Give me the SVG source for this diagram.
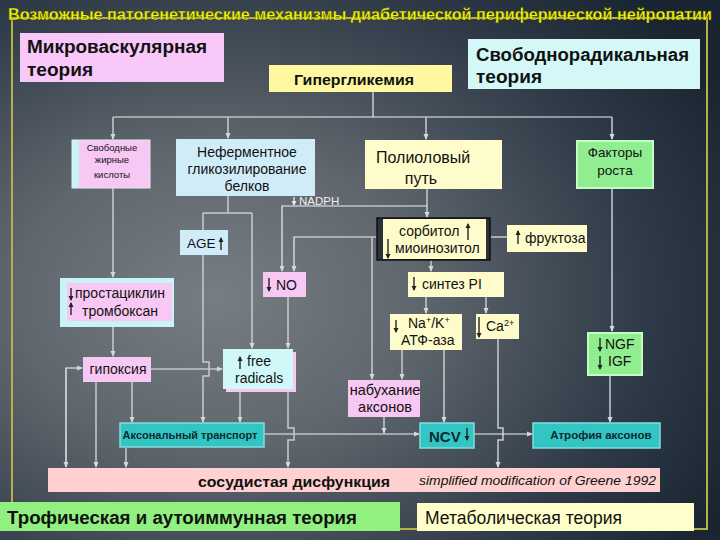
<svg xmlns="http://www.w3.org/2000/svg" width="720" height="540" viewBox="0 0 720 540">
<defs>
<radialGradient id="bg" cx="0.3" cy="0.55" r="0.8">
<stop offset="0" stop-color="#767d83"/>
<stop offset="0.35" stop-color="#5f666d"/>
<stop offset="0.75" stop-color="#2e3a47"/>
<stop offset="1" stop-color="#1a2532"/>
</radialGradient>
<marker id="a" markerWidth="6" markerHeight="6" refX="5" refY="3" orient="auto" markerUnits="userSpaceOnUse"><path d="M0,0.5 L6,3 L0,5.5 z" fill="#d4d8dc"/></marker>
<marker id="s" markerWidth="5" markerHeight="6" refX="4" refY="3" orient="auto" markerUnits="userSpaceOnUse"><path d="M0,0.5 L5,3 L0,5.5 z" fill="#222"/></marker>
<marker id="w" markerWidth="5" markerHeight="6" refX="4" refY="3" orient="auto" markerUnits="userSpaceOnUse"><path d="M0,0.5 L5,3 L0,5.5 z" fill="#e8e8e8"/></marker>
<style>
text{font-family:"Liberation Sans",Arial,sans-serif;fill:#111}
.b{font-weight:bold}
.c{stroke:#c8ccd0;stroke-width:1.5;fill:none}
.h{stroke:#f0f0f0;stroke-width:1.2;fill:none}
.ar{marker-end:url(#a)}
.sa{stroke:#222;stroke-width:1.4;fill:none;marker-end:url(#s)}
.pink{fill:#f8c8f4}
.yel{fill:#fffccc}
.teal{fill:#33c4c4;stroke:#80dede;stroke-width:1.5}
.grn{fill:#90ee90;stroke:#c4fcc4;stroke-width:2}
.m{font-size:14px}
</style>
</defs>
<rect width="720" height="540" fill="url(#bg)"/>
<rect x="12" y="18" width="695" height="511" fill="none" stroke="#b8b040" stroke-width="2"/>
<text x="8" y="20" font-size="16" class="b" style="fill:#f4f400" stroke="#3a3a10" stroke-width="0.3" textLength="704" lengthAdjust="spacingAndGlyphs">Возможные патогенетические механизмы диабетической периферической нейропатии</text>

<g id="connectors">
<path class="c" d="M373,92 V117"/>
<path class="h" d="M113,117 H612"/>
<path class="c ar" d="M113,117 V139"/>
<path class="c ar" d="M228,117 V138"/>
<path class="c ar" d="M426,117 V139"/>
<path class="c ar" d="M612,117 V139"/>
<path class="c ar" d="M113,188 V277"/>
<path class="c ar" d="M113,327 V356"/>
<path class="c" d="M228,196 V213"/>
<path class="c" d="M203,213 H252"/>
<path class="c" d="M203,213 V230"/>
<path class="c ar" d="M252,213 V348"/>
<path class="c ar" d="M427,189 V217"/>
<path class="h ar" d="M427,206 H282 V271"/>
<path class="h ar" d="M377,237 H294 V271"/>
<path class="c ar" d="M372,237 V379"/>
<path class="c" d="M491,237 H507"/>
<path class="c ar" d="M431,260 V271"/>
<path class="c ar" d="M288,297 V348"/>
<path class="c ar" d="M426,297 V313"/>
<path class="c ar" d="M486,297 V313"/>
<path class="c ar" d="M402,350 V379"/>
<path class="c ar" d="M444,350 V422"/>
<path class="c ar" d="M498,339 V428 H503 V440 H498 V467"/>
<path class="c ar" d="M384,417 V433"/>
<path class="h ar" d="M264,434 H419"/>
<path class="h ar" d="M474,434 H532"/>
<path class="c ar" d="M612,189 V331"/>
<path class="c ar" d="M610,375 V422"/>
<path class="h ar" d="M151,369 H222"/>
<path class="c ar" d="M66,467 V368 H82"/>
<path class="c ar" d="M66,368 V467"/>
<path class="c ar" d="M96,382 V467"/>
<path class="c ar" d="M132,382 V422"/>
<path class="c ar" d="M126,448 V467"/>
<path class="c ar" d="M240,392 V422"/>
<path class="c ar" d="M288,392 V428 H294 V440 H288 V467"/>
<path class="c ar" d="M203,255 V362 H209 V376 H203 V422"/>
</g>

<g id="n-micro">
<rect x="20" y="33" width="204" height="49" fill="#f8c8f8"/>
<text x="27" y="53" font-size="18" class="b" textLength="180" lengthAdjust="spacingAndGlyphs">Микроваскулярная</text>
<text x="27" y="76" font-size="18" class="b" textLength="66" lengthAdjust="spacingAndGlyphs">теория</text>
</g>
<g id="n-freerad-theory">
<rect x="468" y="39" width="232" height="50" fill="#d4f8f8"/>
<text x="476" y="61" font-size="18" class="b" textLength="213" lengthAdjust="spacingAndGlyphs">Свободнорадикальная</text>
<text x="476" y="83" font-size="18" class="b" textLength="66" lengthAdjust="spacingAndGlyphs">теория</text>
</g>
<g id="n-hyper">
<rect x="269" y="65" width="183" height="27" fill="#fff8a0"/>
<text x="294" y="85" font-size="15" class="b" textLength="120" lengthAdjust="spacingAndGlyphs">Гипергликемия</text>
</g>
<g id="n-ffa">
<rect x="72" y="140" width="78" height="48" fill="#c8f4f8" stroke="#e8e8f0" stroke-width="1"/>
<rect x="79" y="140.5" width="70.5" height="47" class="pink"/>
<text x="112" y="151" font-size="9.5" text-anchor="middle">Свободные</text>
<text x="112" y="163" font-size="9.5" text-anchor="middle">жирные</text>
<text x="112" y="178" font-size="9.5" text-anchor="middle">кислоты</text>
</g>
<g id="n-glyc">
<rect x="176" y="139" width="139" height="57" fill="#d0ecf8"/>
<text x="247" y="157" font-size="14" text-anchor="middle">Неферментное</text>
<text x="247" y="174" font-size="14" text-anchor="middle">гликозилирование</text>
<text x="247" y="191" font-size="14" text-anchor="middle">белков</text>
</g>
<g id="n-polyol">
<rect x="365" y="140" width="137" height="49" class="yel"/>
<text x="376" y="163" font-size="16">Полиоловый</text>
<text x="421" y="184" font-size="16" text-anchor="middle">путь</text>
</g>
<g id="n-factors">
<rect x="577" y="141" width="76" height="47" class="grn"/>
<text x="615" y="157" font-size="13.5" text-anchor="middle">Факторы</text>
<text x="615" y="175" font-size="13.5" text-anchor="middle">роста</text>
</g>
<g id="n-nadph">
<path d="M294,197 V205" stroke="#e8e8e8" stroke-width="1.3" marker-end="url(#w)"/>
<text x="299" y="205" font-size="11.5" style="fill:#eeeeee">NADPH</text>
</g>
<g id="n-age">
<rect x="180" y="230" width="48" height="25" fill="#d0ecf8"/>
<text x="187" y="248" font-size="13.5">AGE</text>
<path class="sa" d="M221,250 V238"/>
</g>
<g id="n-sorbitol">
<rect x="377" y="218" width="113" height="42" fill="#2b3138" stroke="#111" stroke-width="1.5"/>
<rect x="383" y="219" width="103" height="40" class="yel"/>
<text x="399" y="236" class="m">сорбитол</text>
<path class="sa" d="M468,240 V224"/>
<text x="395" y="253" class="m">миоинозитол</text>
<path class="sa" d="M388,239 V258"/>
</g>
<g id="n-fructose">
<rect x="507" y="225" width="80" height="27" class="yel"/>
<path class="sa" d="M518,244 V231"/>
<text x="525" y="243" class="m">фруктоза</text>
</g>
<g id="n-no">
<rect x="263" y="272" width="43" height="25" class="pink"/>
<path class="sa" d="M269,278 V291"/>
<text x="276" y="290" class="m">NO</text>
</g>
<g id="n-synth">
<rect x="408" y="272" width="96" height="25" class="yel"/>
<path class="sa" d="M414,277 V290"/>
<text x="422" y="289" class="m">синтез PI</text>
</g>
<g id="n-prost">
<rect x="60" y="278" width="114" height="49" fill="#c8f4f8"/>
<rect x="67" y="283" width="105" height="38" class="pink"/>
<path class="sa" d="M71,288 V300"/>
<text x="75" y="298" class="m">простациклин</text>
<path class="sa" d="M71,315 V303"/>
<text x="82" y="316" class="m">тромбоксан</text>
</g>
<g id="n-nak">
<rect x="390" y="314" width="72" height="36" class="yel"/>
<path class="sa" d="M396,320 V332"/>
<text x="408" y="328" class="m">Na<tspan font-size="9" dy="-5">+</tspan><tspan dy="5">/K</tspan><tspan font-size="9" dy="-5">+</tspan></text>
<text x="401" y="345" class="m">АТФ-аза</text>
</g>
<g id="n-ca">
<rect x="476" y="314" width="43" height="25" class="yel"/>
<path class="sa" d="M479,317 V337"/>
<text x="486" y="331" class="m">Ca<tspan font-size="9" dy="-5">2+</tspan></text>
</g>
<g id="n-ngf">
<rect x="588" y="333" width="54" height="42" class="grn"/>
<path class="sa" d="M600,338 V351"/>
<text x="605" y="349" class="m">NGF</text>
<path class="sa" d="M600,356 V369"/>
<text x="608" y="366" class="m">IGF</text>
</g>
<g id="n-hypoxia">
<rect x="83" y="357" width="68" height="25" class="pink"/>
<text x="118" y="374" class="m" text-anchor="middle">гипоксия</text>
</g>
<g id="n-freerad">
<rect x="226" y="352" width="70" height="40" class="pink"/>
<rect x="223" y="349" width="70" height="40" fill="#d0f8f8"/>
<path class="sa" d="M240,369 V357"/>
<text x="247" y="366" class="m">free</text>
<text x="235" y="383" class="m">radicals</text>
</g>
<g id="n-swelling">
<rect x="348" y="380" width="72" height="37" class="pink"/>
<text x="385" y="395" font-size="14.5" text-anchor="middle">набухание</text>
<text x="385" y="412" font-size="14.5" text-anchor="middle">аксонов</text>
</g>
<g id="n-axtrans">
<rect x="120" y="423" width="144" height="24" class="teal"/>
<text x="190" y="439" font-size="11" class="b" text-anchor="middle" style="fill:#0c2a30">Аксональный транспорт</text>
</g>
<g id="n-ncv">
<rect x="420" y="423" width="54" height="25" class="teal"/>
<text x="429" y="442" font-size="15" class="b" style="fill:#0c2a30">NCV</text>
<path class="sa" d="M467,428 V440"/>
</g>
<g id="n-atrophy">
<rect x="533" y="423" width="127" height="25" class="teal"/>
<text x="601" y="439" font-size="11.5" class="b" text-anchor="middle" style="fill:#0c2a30">Атрофия аксонов</text>
</g>
<g id="n-vasc">
<rect x="48" y="468" width="612" height="24" fill="#ffd0d0"/>
<text x="198" y="487" font-size="15" class="b" textLength="192" lengthAdjust="spacingAndGlyphs">сосудистая дисфункция</text>
<text x="419" y="485" font-size="13.5" font-style="italic" textLength="237" lengthAdjust="spacingAndGlyphs">simplified modification of Greene 1992</text>
</g>
<g id="n-troph">
<rect x="0" y="502" width="400" height="29" fill="#90f080"/>
<text x="7" y="524" font-size="18" class="b" textLength="350" lengthAdjust="spacingAndGlyphs">Трофическая и аутоиммунная теория</text>
</g>
<g id="n-metab">
<rect x="417" y="503" width="277" height="28" fill="#ffffcc"/>
<text x="425" y="524" font-size="18" textLength="197" lengthAdjust="spacingAndGlyphs">Метаболическая теория</text>
</g>
</svg>
